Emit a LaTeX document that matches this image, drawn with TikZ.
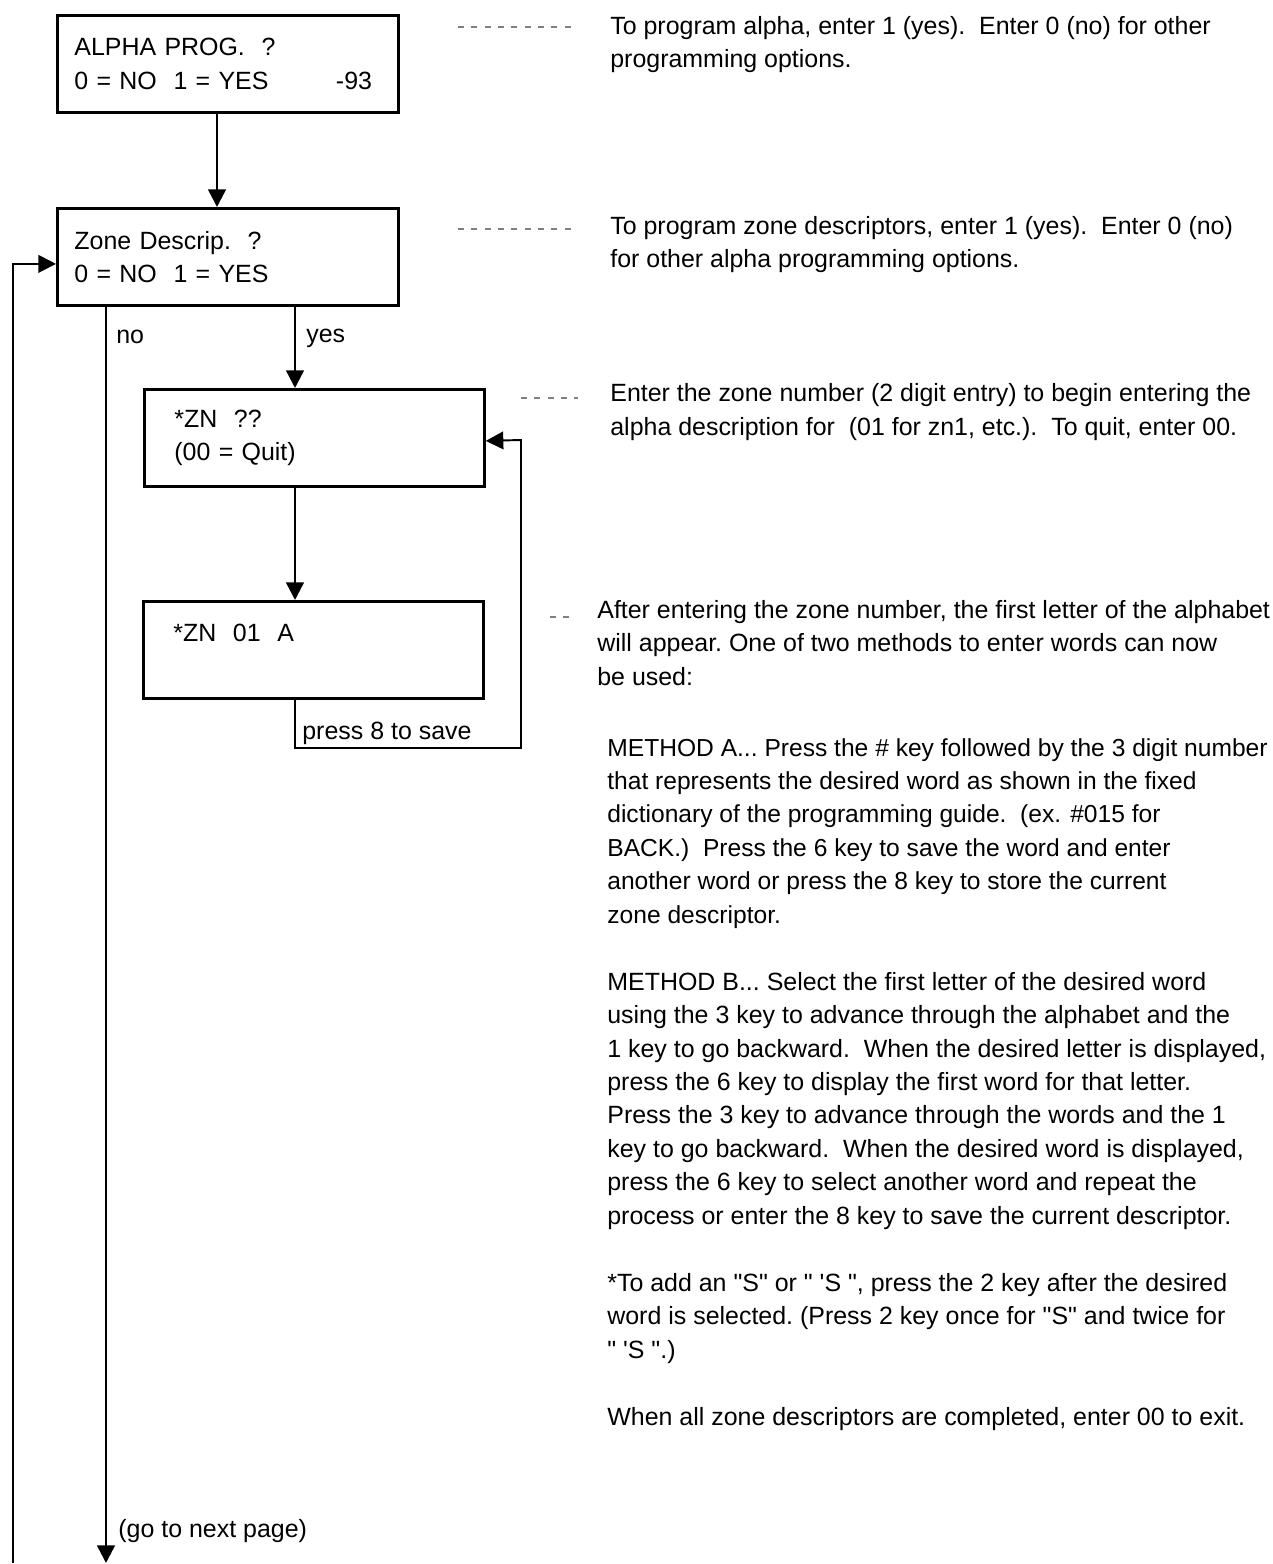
\documentclass[tikz,border=0pt]{standalone}
\usepackage{fontspec}
\setmainfont{Liberation Sans}
\usetikzlibrary{arrows.meta,positioning,calc}

\newcommand{\txtfont}{\fontsize{14.2}{19}\selectfont}

\tikzset{
  bigbox/.style={draw, line width=1.6pt, anchor=north west, minimum height=1.94cm,
    inner xsep=0.34cm, inner ysep=0pt, text width=6.14cm, align=left, font=\txtfont},
  subbox/.style={draw, line width=1.6pt, anchor=north west, minimum height=1.94cm,
    inner xsep=0.6cm, inner ysep=0pt, text width=5.6cm, align=left, font=\txtfont},
  conn/.style={line width=1.4pt, -{Triangle[length=10pt,width=10pt]}},
  back/.style={line width=1.1pt, -{Triangle[length=10pt,width=10pt]}},
  lbl/.style={inner sep=0pt, anchor=base west, font=\txtfont},
  note/.style={inner sep=0pt, anchor=base west, align=left, font=\txtfont},
  lead/.style={line width=0.6pt, gray, dash pattern=on 3.4pt off 4.2pt}
}

\begin{document}
\begin{tikzpicture}[x=0.02cm, y=-0.02cm]
    \useasboundingbox (0,0) rectangle (1273,1564);

    % boxes
    \node[bigbox] (alpha) at (56,14) {ALPHA PROG.\ \ ?\\0 = NO\ \ 1 = YES\hspace{1.35cm}-93};
    \node[bigbox] (zone) at (56,207) {Zone Descrip.\ \ ?\\0 = NO\ \ 1 = YES};
    \node[subbox] (zn) at (143,388) {*ZN\ \ ??\\(00 = Quit)};
    \node[subbox] (zna) at (142,600) {*ZN\ \ 01\ \ A\\\mbox{}};

    % line positions
    \coordinate (midX) at (217,0);
    \coordinate (noX) at (106,0);
    \coordinate (yesX) at (295,0);
    \coordinate (loopX) at (13,0);
    \coordinate (retX) at (521,0);
    \coordinate (retY) at (0,748);
    \coordinate (bottom) at (0,1563);

    % connectors
    \draw[conn] (alpha.south -| midX) -- (zone.north -| midX);
    \draw[conn] (zone.south -| yesX) -- (zn.north -| yesX);
    \draw[conn] (zn.south -| yesX) -- (zna.north -| yesX);
    \draw[back] (zna.south -| yesX) -- (yesX |- retY) -- (retX |- retY)
        -- (retX |- 0,440) -- ([yshift=-0.06cm]zn.east);
    \draw[conn] (zone.south -| noX) -- (noX |- bottom);
    \draw[back] (loopX |- bottom) |- ([yshift=-0.14cm]zone.west);

    % labels
    \node[lbl] (lno) at ($(zone.south -| noX)+(10,37)$) {no};
    \node[lbl] (lyes) at ($(zone.south -| yesX)+(11,36)$) {yes};
    \node[lbl] (lsave) at ($(zna.south -| yesX)+(7,40)$) {press 8 to save};
    \node[lbl] (lnext) at ($(noX |- bottom)+(12,-26)$) {(go to next page)};

    % notes on the right (placed at the baseline of their last line)
    \node[note] (n1) at (610,68) {To program alpha, enter 1 (yes).\ \ Enter 0 (no) for other\\programming options.};
    \node[note] (n2) at (610,268) {To program zone descriptors, enter 1 (yes).\ \ Enter 0 (no)\\for other alpha programming options.};
    \node[note] (n3) at (610,435) {Enter the zone number (2 digit entry) to begin entering the\\alpha description for\ \ (01 for zn1, etc.).\ \ To quit, enter 00.};
    \node[note] (n4) at (597,685) {After entering the zone number, the first letter of the alphabet\\will appear.\ One of two methods to enter words can now\\be used:};
    \node[note, font=\fontsize{14}{19}\selectfont] (n5) at (607,923) {METHOD A...\ Press the \# key followed by the 3 digit number\\that represents the desired word as shown in the fixed\\dictionary of the programming guide.\ \ (ex. \#015 for\\BACK.)\ \ Press the 6 key to save the word and enter\\another word or press the 8 key to store the current\\zone descriptor.};
    \node[note] (n6) at (607,1224) {METHOD B...\ Select the first letter of the desired word\\using the 3 key to advance through the alphabet and the\\1 key to go backward.\ \ When the desired letter is displayed,\\press the 6 key to display the first word for that letter.\\Press the 3 key to advance through the words and the 1\\key to go backward.\ \ When the desired word is displayed,\\press the 6 key to select another word and repeat the\\process or enter the 8 key to save the current descriptor.};
    \node[note] (n7) at (607,1358) {*To add an \textquotedbl S\textquotedbl{} or \textquotedbl\ \textquotesingle S \textquotedbl, press the 2 key after the desired\\word is selected.\ (Press 2 key once for \textquotedbl S\textquotedbl{} and twice for\\\textquotedbl\ \textquotesingle S \textquotedbl.)};
    \node[note] (n8) at (607,1425) {When all zone descriptors are completed, enter 00 to exit.};

    % leaders
    \draw[lead] ($(n1.base west)+(-152,-41)$) -- ($(n1.base west)+(-33,-41)$);
    \draw[lead] ($(n2.base west)+(-152,-39)$) -- ($(n2.base west)+(-33,-39)$);
    \draw[lead] ($(n3.base west)+(-89,-37)$) -- ($(n3.base west)+(-32,-37)$);
    \draw[lead] ($(n4.base west)+(-47,-68)$) -- ($(n4.base west)+(-21,-68)$);
\end{tikzpicture}
\end{document}
